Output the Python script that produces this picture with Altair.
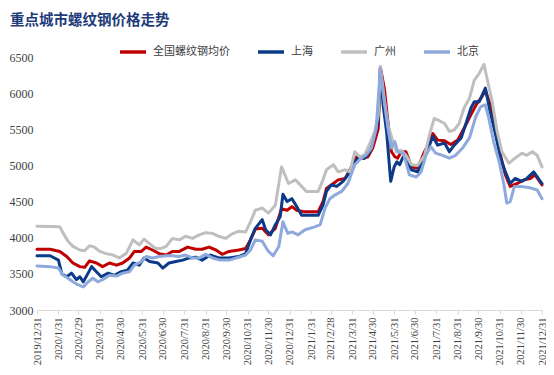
import altair as alt
import pandas as pd

title_text = "重点城市螺纹钢价格走势"
series_names = ["全国螺纹钢均价", "上海", "广州", "北京"]
series_colors = ["#C00000", "#0B3A88", "#BFBFBF", "#8EA9DB"]

nat_dates = ["2019-12-31", "2020-01-19", "2020-02-02", "2020-02-12", "2020-02-21", "2020-03-02", "2020-03-09",
             "2020-03-16", "2020-03-26", "2020-04-04", "2020-04-14", "2020-04-24", "2020-05-03", "2020-05-13",
             "2020-05-20", "2020-05-30", "2020-06-06", "2020-06-15", "2020-06-25", "2020-07-05", "2020-07-14",
             "2020-07-24", "2020-08-05", "2020-08-17", "2020-08-26", "2020-09-05", "2020-09-15", "2020-09-24",
             "2020-10-04", "2020-10-18", "2020-10-28", "2020-11-04", "2020-11-11", "2020-11-21", "2020-11-30",
             "2020-12-10", "2020-12-19", "2020-12-27", "2021-01-03", "2021-01-10", "2021-01-20", "2021-02-10",
             "2021-02-17", "2021-02-22", "2021-03-04", "2021-03-11", "2021-03-21", "2021-03-28", "2021-04-07",
             "2021-04-16", "2021-04-23", "2021-04-30", "2021-05-08", "2021-05-11", "2021-05-17", "2021-05-22",
             "2021-05-27", "2021-06-01", "2021-06-05", "2021-06-10", "2021-06-17", "2021-06-25", "2021-07-04",
             "2021-07-14", "2021-07-21", "2021-07-26", "2021-08-02", "2021-08-12", "2021-08-21", "2021-08-31",
             "2021-09-09", "2021-09-19", "2021-09-28", "2021-10-05", "2021-10-10", "2021-10-17", "2021-10-25",
             "2021-11-01", "2021-11-08", "2021-11-15", "2021-11-25", "2021-12-05", "2021-12-14", "2021-12-21",
             "2021-12-31"]
nat_values = [3840, 3840, 3810, 3740, 3650, 3600, 3590,
              3680, 3650, 3600, 3650, 3620, 3650, 3720,
              3810, 3810, 3870, 3830, 3780, 3760, 3810,
              3810, 3870, 3840, 3840, 3870, 3830, 3770,
              3810, 3830, 3850, 3970, 4120, 4130, 4040,
              4130, 4400, 4380, 4430, 4380, 4360, 4360,
              4500, 4680, 4750, 4800, 4820, 4940, 5120,
              5100, 5120, 5240, 5510, 6360, 6050, 5600,
              5190, 5120, 5100, 5190, 5190, 4980, 4960,
              5190, 5330, 5440, 5350, 5340, 5290, 5350,
              5510, 5700, 5860, 5950, 6040, 5840, 5490,
              5140, 4870, 4710, 4750, 4800, 4820, 4870,
              4730]

sh_dates = ["2019-12-31", "2020-01-19", "2020-01-31", "2020-02-05", "2020-02-12", "2020-02-19", "2020-02-26",
            "2020-03-02", "2020-03-07", "2020-03-14", "2020-03-19", "2020-03-26", "2020-04-02", "2020-04-12",
            "2020-04-21", "2020-05-01", "2020-05-10", "2020-05-18", "2020-05-27", "2020-06-03", "2020-06-11",
            "2020-06-23", "2020-06-30", "2020-07-09", "2020-07-19", "2020-07-29", "2020-08-07", "2020-08-17",
            "2020-08-26", "2020-09-07", "2020-09-19", "2020-10-04", "2020-10-18", "2020-10-28", "2020-11-04",
            "2020-11-11", "2020-11-21", "2020-11-26", "2020-12-03", "2020-12-10", "2020-12-17", "2020-12-21",
            "2020-12-27", "2021-01-03", "2021-01-10", "2021-01-17", "2021-02-10", "2021-02-17", "2021-02-22",
            "2021-03-01", "2021-03-09", "2021-03-18", "2021-03-25", "2021-04-04", "2021-04-11", "2021-04-18",
            "2021-04-26", "2021-05-03", "2021-05-08", "2021-05-11", "2021-05-15", "2021-05-20", "2021-05-26",
            "2021-05-31", "2021-06-04", "2021-06-08", "2021-06-13", "2021-06-17", "2021-06-25", "2021-07-04",
            "2021-07-14", "2021-07-21", "2021-07-26", "2021-08-02", "2021-08-12", "2021-08-19", "2021-08-26",
            "2021-09-05", "2021-09-13", "2021-09-19", "2021-09-24", "2021-10-01", "2021-10-10", "2021-10-17",
            "2021-10-25", "2021-11-01", "2021-11-08", "2021-11-15", "2021-11-22", "2021-12-02", "2021-12-09",
            "2021-12-19", "2021-12-31"]
sh_values = [3750, 3750, 3690, 3500, 3460, 3510, 3420,
             3460, 3390, 3510, 3600, 3530, 3460, 3510,
             3480, 3530, 3550, 3650, 3620, 3720, 3670,
             3650, 3580, 3650, 3670, 3690, 3720, 3730,
             3690, 3760, 3720, 3720, 3740, 3780, 3970,
             4130, 4250, 4110, 4040, 4180, 4290, 4600,
             4500, 4540, 4430, 4310, 4310, 4450, 4640,
             4730, 4710, 4780, 4870, 5050, 5120, 5100,
             5190, 5420, 5610, 6340, 5840, 5470, 4780,
             4980, 5050, 5010, 5120, 5100, 4940, 4910,
             5140, 5280, 5400, 5280, 5310, 5190, 5280,
             5380, 5610, 5790, 5880, 5880, 6070, 5740,
             5420, 5100, 4910, 4750, 4820, 4780, 4820,
             4910, 4750]

gz_dates = ["2019-12-31", "2020-02-02", "2020-02-07", "2020-02-14", "2020-02-21", "2020-03-02", "2020-03-09",
            "2020-03-16", "2020-03-23", "2020-03-31", "2020-04-09", "2020-04-19", "2020-04-28", "2020-05-08",
            "2020-05-18", "2020-05-27", "2020-06-03", "2020-06-13", "2020-06-20", "2020-06-27", "2020-07-05",
            "2020-07-14", "2020-07-24", "2020-08-02", "2020-08-12", "2020-08-22", "2020-08-31", "2020-09-10",
            "2020-09-19", "2020-09-29", "2020-10-08", "2020-10-18", "2020-10-28", "2020-11-04", "2020-11-11",
            "2020-11-21", "2020-11-30", "2020-12-10", "2020-12-19", "2020-12-29", "2021-01-08", "2021-01-17",
            "2021-01-24", "2021-02-10", "2021-02-17", "2021-02-22", "2021-03-04", "2021-03-11", "2021-03-21",
            "2021-03-28", "2021-04-04", "2021-04-11", "2021-04-18", "2021-04-26", "2021-05-03", "2021-05-08",
            "2021-05-11", "2021-05-16", "2021-05-22", "2021-05-29", "2021-06-03", "2021-06-10", "2021-06-17",
            "2021-06-25", "2021-07-04", "2021-07-14", "2021-07-21", "2021-07-28", "2021-08-02", "2021-08-12",
            "2021-08-19", "2021-08-26", "2021-09-02", "2021-09-09", "2021-09-17", "2021-09-24", "2021-10-01",
            "2021-10-08", "2021-10-13", "2021-10-20", "2021-10-27", "2021-11-03", "2021-11-13", "2021-11-22",
            "2021-12-02", "2021-12-09", "2021-12-17", "2021-12-24", "2021-12-31"]
gz_values = [4160, 4150, 4060, 3950, 3880, 3830, 3820,
             3890, 3870, 3810, 3780, 3760, 3720, 3780,
             3970, 3900, 3980, 3900, 3850, 3850, 3880,
             3990, 3970, 4020, 3990, 4040, 4070, 4060,
             4020, 3990, 4050, 4090, 4080, 4220, 4380,
             4410, 4340, 4450, 4980, 4750, 4800, 4710,
             4640, 4640, 4800, 4940, 5010, 4910, 4940,
             4910, 5190, 5120, 5140, 5310, 5470, 5700,
             6370, 5970, 5560, 5340, 5190, 5210, 5140,
             5010, 5000, 5140, 5420, 5650, 5630, 5580,
             5470, 5490, 5580, 5790, 5930, 6180, 6270,
             6400, 6180, 5880, 5470, 5190, 5030, 5100,
             5170, 5140, 5190, 5140, 4980]

bj_dates = ["2019-12-31", "2020-01-19", "2020-01-31", "2020-02-07", "2020-02-14", "2020-02-21", "2020-02-28",
            "2020-03-07", "2020-03-14", "2020-03-21", "2020-03-28", "2020-04-04", "2020-04-14", "2020-04-24",
            "2020-05-03", "2020-05-13", "2020-05-20", "2020-05-30", "2020-06-06", "2020-06-15", "2020-06-25",
            "2020-07-05", "2020-07-14", "2020-07-24", "2020-08-02", "2020-08-12", "2020-08-22", "2020-08-31",
            "2020-09-10", "2020-09-21", "2020-10-04", "2020-10-18", "2020-10-28", "2020-11-04", "2020-11-11",
            "2020-11-21", "2020-11-30", "2020-12-07", "2020-12-15", "2020-12-21", "2020-12-28", "2021-01-03",
            "2021-01-12", "2021-01-22", "2021-02-05", "2021-02-13", "2021-02-20", "2021-02-27", "2021-03-06",
            "2021-03-16", "2021-03-25", "2021-04-04", "2021-04-13", "2021-04-20", "2021-04-28", "2021-05-05",
            "2021-05-11", "2021-05-16", "2021-05-22", "2021-05-27", "2021-06-01", "2021-06-05", "2021-06-13",
            "2021-06-17", "2021-06-22", "2021-07-02", "2021-07-09", "2021-07-16", "2021-07-23", "2021-07-30",
            "2021-08-09", "2021-08-19", "2021-08-28", "2021-09-07", "2021-09-17", "2021-09-26", "2021-10-03",
            "2021-10-10", "2021-10-15", "2021-10-22", "2021-10-30", "2021-11-06", "2021-11-10", "2021-11-15",
            "2021-11-21", "2021-11-30", "2021-12-14", "2021-12-24", "2021-12-31"]
bj_values = [3610, 3600, 3580, 3480, 3440, 3390, 3350,
             3320, 3390, 3440, 3390, 3420, 3480, 3470,
             3510, 3530, 3620, 3670, 3740, 3720, 3740,
             3750, 3750, 3740, 3760, 3720, 3720, 3770,
             3720, 3690, 3690, 3730, 3760, 3830, 3970,
             3950, 3810, 3750, 3880, 4220, 4060, 4080,
             4040, 4110, 4150, 4180, 4410, 4540, 4590,
             4640, 4750, 5010, 5100, 5140, 5240, 5510,
             6340, 5930, 5510, 5240, 5330, 5190, 5170,
             5050, 4870, 4840, 4910, 5140, 5260, 5170,
             5140, 5100, 5140, 5240, 5380, 5670, 5810,
             5840, 5650, 5330, 5050, 4730, 4480, 4500,
             4710, 4710, 4690, 4660, 4540]

tick_dates = ["2019-12-31", "2020-01-31", "2020-02-29", "2020-03-31", "2020-04-30", "2020-05-31",
              "2020-06-30", "2020-07-31", "2020-08-31", "2020-09-30", "2020-10-31", "2020-11-30",
              "2020-12-31", "2021-01-31", "2021-02-28", "2021-03-31", "2021-04-30", "2021-05-31",
              "2021-06-30", "2021-07-31", "2021-08-31", "2021-09-30", "2021-10-31", "2021-11-30",
              "2021-12-31"]
y_ticks = [3000, 3500, 4000, 4500, 5000, 5500, 6000, 6500]

frames = []
for name, ds, vs in [(series_names[0], nat_dates, nat_values),
                     (series_names[1], sh_dates, sh_values),
                     (series_names[2], gz_dates, gz_values),
                     (series_names[3], bj_dates, bj_values)]:
    frames.append(pd.DataFrame({"series": name, "date": ds, "value": vs}))
df = pd.concat(frames, ignore_index=True)


def dt(s):
    y, m, d = (int(p) for p in s.split("-"))
    return alt.DateTime(year=y, month=m, date=d, utc=True)


LATIN = "Liberation Serif, Noto Sans CJK SC"

chart = (
    alt.Chart(df)
    .mark_line(strokeWidth=3, strokeJoin="round", strokeCap="round")
    .encode(
        x=alt.X(
            "date:T",
            scale=alt.Scale(type="utc", domain=[dt(tick_dates[0]), dt(tick_dates[-1])]),
            axis=alt.Axis(
                title=None,
                values=[dt(s) for s in tick_dates],
                labelExpr="utcFormat(datum.value, '%Y/%-m/%-d')",
                labelAngle=270,
                labelFont=LATIN,
                labelFontSize=10.5,
                labelColor="#404040",
                labelPadding=3,
                labelOverlap=False,
                labelFlush=False,
                tickColor="#D9D9D9",
                tickSize=4,
                domainColor="#D9D9D9",
                grid=False,
            ),
        ),
        y=alt.Y(
            "value:Q",
            scale=alt.Scale(domain=[3000, 6500], nice=False, zero=False),
            axis=alt.Axis(
                title=None,
                values=y_ticks,
                format="d",
                grid=False,
                domain=False,
                ticks=False,
                labelFont=LATIN,
                labelFontSize=12,
                labelColor="#404040",
                labelPadding=4,
            ),
        ),
        color=alt.Color(
            "series:N",
            scale=alt.Scale(domain=series_names, range=series_colors),
            legend=alt.Legend(
                title=None,
                orient="none",
                direction="horizontal",
                legendX=81,
                legendY=-20,
                symbolType="stroke",
                symbolSize=676,
                symbolStrokeWidth=3.5,
                labelFont=LATIN,
                labelFontSize=11,
                labelColor="#404040",
                labelOffset=5,
                columnPadding=21,
                padding=0,
            ),
        ),
        order=alt.Order("series_order:Q"),
    )
    .transform_calculate(
        series_order="indexof(" + str(series_names) + ", datum.series)"
    )
    .properties(
        width=505,
        height=253,
        autosize=alt.AutoSizeParams(type="none"),
        padding={"left": 29, "top": 49, "right": 4, "bottom": 59},
        title=alt.Title(
            title_text,
            anchor="start",
            frame="group",
            font="Noto Sans CJK SC",
            fontSize=14.5,
            fontWeight="bold",
            color="#1F3C7A",
            dx=-27,
            offset=9,
        ),
    )
    .configure_view(stroke=None)
)

chart.save("out.html", embed_options={"renderer": "svg", "actions": False})
